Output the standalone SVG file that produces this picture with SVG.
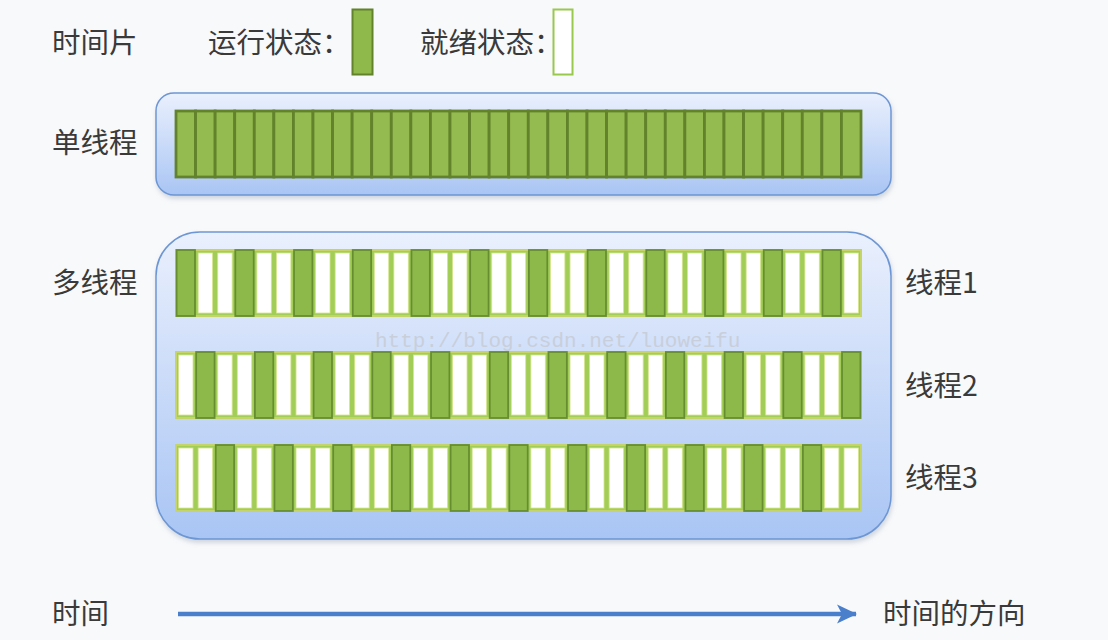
<svg xmlns="http://www.w3.org/2000/svg" xmlns:xlink="http://www.w3.org/1999/xlink" width="1108" height="640" viewBox="0 0 1108 640">
<style>
.t{font-family:"Noto Sans CJK SC","Noto Sans",sans-serif;font-size:28.5px;fill:#3a3a3a;}
.box{stroke:#6d96d4;stroke-width:1.5;fill:url(#bg);filter:url(#sh);}
.sg{fill:#94bb4f;stroke:#62822c;stroke-width:2.8;}
.bar{fill:#a2ce58;stroke:#c4d466;stroke-width:2;}
.mg{fill:#8db94a;stroke:#668e30;stroke-width:1.8;}
.mw{fill:#ffffff;stroke:#d6e590;stroke-width:0.8;}
.wm{font-family:"Liberation Mono",monospace;font-size:21px;fill:#c8cfda;}
</style>
<defs>
<linearGradient id="bg" x1="0" y1="0" x2="0" y2="1">
<stop offset="0" stop-color="#eaf0fd"/>
<stop offset="1" stop-color="#a9c5f4"/>
</linearGradient>
<filter id="sh" x="-5%" y="-10%" width="110%" height="125%">
<feDropShadow dx="1" dy="3" stdDeviation="2.5" flood-color="#8090a8" flood-opacity="0.35"/>
</filter>
<rect id="s" class="sg" x="0" y="0" width="19.57" height="66"/>
<rect id="g" class="mg" x="0.6" y="0" width="18.4" height="66"/>
<rect id="w" class="mw" x="2.6" y="3" width="14.4" height="60"/>
<marker id="ah" markerUnits="userSpaceOnUse" markerWidth="26" markerHeight="26" refX="20" refY="13" orient="auto">
<path d="M1,3.5 L21,13 L1,22.5 L6,13 Z" fill="#4a7fcc"/>
</marker>
</defs>
<rect x="0" y="0" width="1108" height="640" fill="#f8f9fb"/>

<g id="legend">
<text class="t" x="52" y="53">时间片</text>
<text class="t" x="208" y="53">运行状态：</text>
<rect x="352.5" y="9.5" width="20" height="65" fill="#8fb94b" stroke="#62822c" stroke-width="2"/>
<text class="t" x="420" y="53">就绪状态：</text>
<rect x="553.5" y="9.5" width="19" height="65" fill="#ffffff" stroke="#98c84c" stroke-width="2"/>
</g>

<g id="single-thread">
<text class="t" x="52" y="153">单线程</text>
<rect class="box" x="156" y="93" width="735" height="102" rx="18"/>
<g transform="translate(176,111)">
<use xlink:href="#s" x="0"/><use xlink:href="#s" x="19.57"/><use xlink:href="#s" x="39.14"/><use xlink:href="#s" x="58.71"/><use xlink:href="#s" x="78.29"/><use xlink:href="#s" x="97.86"/><use xlink:href="#s" x="117.43"/><use xlink:href="#s" x="137"/><use xlink:href="#s" x="156.57"/><use xlink:href="#s" x="176.14"/><use xlink:href="#s" x="195.71"/><use xlink:href="#s" x="215.29"/><use xlink:href="#s" x="234.86"/><use xlink:href="#s" x="254.43"/><use xlink:href="#s" x="274"/><use xlink:href="#s" x="293.57"/><use xlink:href="#s" x="313.14"/><use xlink:href="#s" x="332.71"/><use xlink:href="#s" x="352.29"/><use xlink:href="#s" x="371.86"/><use xlink:href="#s" x="391.43"/><use xlink:href="#s" x="411"/><use xlink:href="#s" x="430.57"/><use xlink:href="#s" x="450.14"/><use xlink:href="#s" x="469.71"/><use xlink:href="#s" x="489.29"/><use xlink:href="#s" x="508.86"/><use xlink:href="#s" x="528.43"/><use xlink:href="#s" x="548"/><use xlink:href="#s" x="567.57"/><use xlink:href="#s" x="587.14"/><use xlink:href="#s" x="606.71"/><use xlink:href="#s" x="626.29"/><use xlink:href="#s" x="645.86"/><use xlink:href="#s" x="665.43"/>
</g>
</g>

<g id="multi-thread">
<text class="t" x="52" y="293">多线程</text>
<rect class="box" x="156" y="232" width="735" height="307" rx="44"/>
</g>

<g id="thread1">
<g transform="translate(176,250)">
<rect class="bar" x="0" y="0" width="685" height="66"/>
<use xlink:href="#g" x="0"/><use xlink:href="#w" x="19.57"/><use xlink:href="#w" x="39.14"/><use xlink:href="#g" x="58.71"/><use xlink:href="#w" x="78.29"/><use xlink:href="#w" x="97.86"/><use xlink:href="#g" x="117.43"/><use xlink:href="#w" x="137"/><use xlink:href="#w" x="156.57"/><use xlink:href="#g" x="176.14"/><use xlink:href="#w" x="195.71"/><use xlink:href="#w" x="215.29"/><use xlink:href="#g" x="234.86"/><use xlink:href="#w" x="254.43"/><use xlink:href="#w" x="274"/><use xlink:href="#g" x="293.57"/><use xlink:href="#w" x="313.14"/><use xlink:href="#w" x="332.71"/><use xlink:href="#g" x="352.29"/><use xlink:href="#w" x="371.86"/><use xlink:href="#w" x="391.43"/><use xlink:href="#g" x="411"/><use xlink:href="#w" x="430.57"/><use xlink:href="#w" x="450.14"/><use xlink:href="#g" x="469.71"/><use xlink:href="#w" x="489.29"/><use xlink:href="#w" x="508.86"/><use xlink:href="#g" x="528.43"/><use xlink:href="#w" x="548"/><use xlink:href="#w" x="567.57"/><use xlink:href="#g" x="587.14"/><use xlink:href="#w" x="606.71"/><use xlink:href="#w" x="626.29"/><use xlink:href="#g" x="645.86"/><use xlink:href="#w" x="665.43"/>
</g>
<text class="t" x="905" y="293">线程1</text>
</g>

<text class="wm" x="375" y="347">http://blog.csdn.net/luoweifu</text>

<g id="thread2">
<g transform="translate(176,352)">
<rect class="bar" x="0" y="0" width="685" height="66"/>
<use xlink:href="#w" x="0"/><use xlink:href="#g" x="19.57"/><use xlink:href="#w" x="39.14"/><use xlink:href="#w" x="58.71"/><use xlink:href="#g" x="78.29"/><use xlink:href="#w" x="97.86"/><use xlink:href="#w" x="117.43"/><use xlink:href="#g" x="137"/><use xlink:href="#w" x="156.57"/><use xlink:href="#w" x="176.14"/><use xlink:href="#g" x="195.71"/><use xlink:href="#w" x="215.29"/><use xlink:href="#w" x="234.86"/><use xlink:href="#g" x="254.43"/><use xlink:href="#w" x="274"/><use xlink:href="#w" x="293.57"/><use xlink:href="#g" x="313.14"/><use xlink:href="#w" x="332.71"/><use xlink:href="#w" x="352.29"/><use xlink:href="#g" x="371.86"/><use xlink:href="#w" x="391.43"/><use xlink:href="#w" x="411"/><use xlink:href="#g" x="430.57"/><use xlink:href="#w" x="450.14"/><use xlink:href="#w" x="469.71"/><use xlink:href="#g" x="489.29"/><use xlink:href="#w" x="508.86"/><use xlink:href="#w" x="528.43"/><use xlink:href="#g" x="548"/><use xlink:href="#w" x="567.57"/><use xlink:href="#w" x="587.14"/><use xlink:href="#g" x="606.71"/><use xlink:href="#w" x="626.29"/><use xlink:href="#w" x="645.86"/><use xlink:href="#g" x="665.43"/>
</g>
<text class="t" x="905" y="396">线程2</text>
</g>

<g id="thread3">
<g transform="translate(176,445)">
<rect class="bar" x="0" y="0" width="685" height="66"/>
<use xlink:href="#w" x="0"/><use xlink:href="#w" x="19.57"/><use xlink:href="#g" x="39.14"/><use xlink:href="#w" x="58.71"/><use xlink:href="#w" x="78.29"/><use xlink:href="#g" x="97.86"/><use xlink:href="#w" x="117.43"/><use xlink:href="#w" x="137"/><use xlink:href="#g" x="156.57"/><use xlink:href="#w" x="176.14"/><use xlink:href="#w" x="195.71"/><use xlink:href="#g" x="215.29"/><use xlink:href="#w" x="234.86"/><use xlink:href="#w" x="254.43"/><use xlink:href="#g" x="274"/><use xlink:href="#w" x="293.57"/><use xlink:href="#w" x="313.14"/><use xlink:href="#g" x="332.71"/><use xlink:href="#w" x="352.29"/><use xlink:href="#w" x="371.86"/><use xlink:href="#g" x="391.43"/><use xlink:href="#w" x="411"/><use xlink:href="#w" x="430.57"/><use xlink:href="#g" x="450.14"/><use xlink:href="#w" x="469.71"/><use xlink:href="#w" x="489.29"/><use xlink:href="#g" x="508.86"/><use xlink:href="#w" x="528.43"/><use xlink:href="#w" x="548"/><use xlink:href="#g" x="567.57"/><use xlink:href="#w" x="587.14"/><use xlink:href="#w" x="606.71"/><use xlink:href="#g" x="626.29"/><use xlink:href="#w" x="645.86"/><use xlink:href="#w" x="665.43"/>
</g>
<text class="t" x="905" y="488">线程3</text>
</g>

<g id="time-axis">
<text class="t" x="52" y="624">时间</text>
<text class="t" x="883" y="624">时间的方向</text>
</g>

<g id="connectors">
<line x1="178" y1="614" x2="856" y2="614" stroke="#4a7fcc" stroke-width="4.5" marker-end="url(#ah)"/>
</g>
</svg>
